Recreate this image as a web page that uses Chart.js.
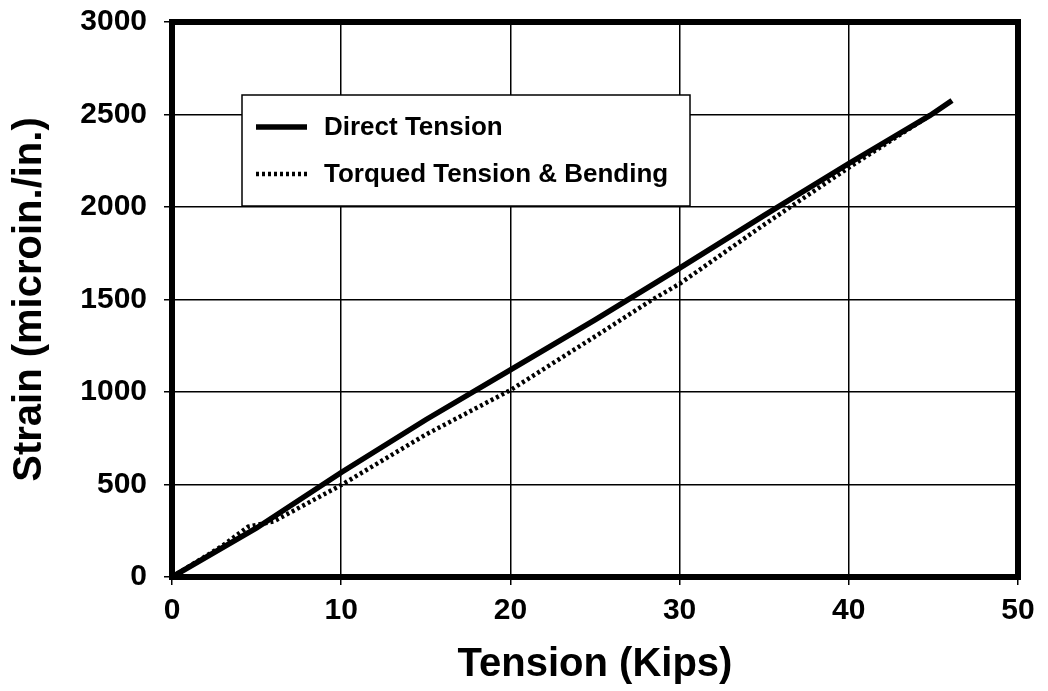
<!DOCTYPE html>
<html>
<head>
<meta charset="utf-8">
<script src="https://cdn.jsdelivr.net/npm/chart.js@4"></script>
<style>
    body { margin: 0; background: #fff; }
    #wrap { width: 1048px; height: 691px; position: relative; }
</style>
</head>
<body>
<div id="wrap"><canvas id="kayra"></canvas></div>
<script>
// values
const directTension = [0, 5, 10, 15, 20, 25, 30, 35, 40, 44.8, 46.1];
const directStrain = [0, 265, 565, 850, 1120, 1390, 1670, 1955, 2235, 2495, 2576];

const torquedTension = [0, 3, 4.5, 6, 10, 15, 20, 25, 28.4, 30, 35, 40, 44.8];
const torquedStrain = [0, 170, 272, 300, 497, 770, 1010, 1300, 1500, 1585, 1905, 2213, 2495];

const seriesLabels = ['Direct Tension', 'Torqued Tension & Bending'];
const xTicks = [0, 10, 20, 30, 40, 50];
const yTicks = [0, 500, 1000, 1500, 2000, 2500, 3000];

const FONT = "'Liberation Sans', Arial, Helvetica, sans-serif";

function toPoints( xs, ys )
{
    let pts = [];
    for ( let i = 0; i < xs.length; i++ )
    {
        pts.push( { x: xs[ i ], y: ys[ i ] } );
    }
    return pts;
}

// thick frame round the plot
const frameBox = {
    id: 'frameBox',
    beforeDatasetsDraw( chart )
    {
        const a = chart.chartArea;
        const ctx = chart.ctx;
        ctx.save();
        ctx.strokeStyle = '#000';
        ctx.lineWidth = 6;
        ctx.strokeRect( a.left, a.top, a.right - a.left, a.bottom - a.top );
        ctx.restore();
    }
};

// boxed legend inside the plot, like the original
const boxLegend = {
    id: 'boxLegend',
    afterDatasetsDraw( chart )
    {
        const a = chart.chartArea;
        const ctx = chart.ctx;
        const x0 = a.left + 70, y0 = a.top + 73, w = 448, h = 111;
        ctx.save();
        ctx.fillStyle = '#fff';
        ctx.fillRect( x0, y0, w, h );
        ctx.strokeStyle = '#000';
        ctx.lineWidth = 1.5;
        ctx.strokeRect( x0, y0, w, h );

        chart.data.datasets.forEach( function ( ds, i )
        {
            const cy = y0 + 32 + i * 47;
            ctx.beginPath();
            ctx.lineWidth = ds.borderWidth;
            ctx.setLineDash( ds.borderDash || [] );
            ctx.moveTo( x0 + 14, cy );
            ctx.lineTo( x0 + 65, cy );
            ctx.stroke();
            ctx.setLineDash( [] );
            ctx.fillStyle = '#000';
            ctx.font = 'bold 26px ' + FONT;
            ctx.textBaseline = 'middle';
            ctx.fillText( ds.label, x0 + 82, cy + 1 );
        } );
        ctx.restore();
    }
};

function plainTick( value )
{
    return value.toString();
}

const config = {
    type: 'scatter',
    data: {
        datasets: [
            {
                label: seriesLabels[ 0 ],
                data: toPoints( directTension, directStrain ),
                showLine: true,
                borderColor: '#000',
                backgroundColor: '#000',
                borderWidth: 5.5,
                pointRadius: 0,
                tension: 0
            },
            {
                label: seriesLabels[ 1 ],
                data: toPoints( torquedTension, torquedStrain ),
                showLine: true,
                borderColor: '#000',
                backgroundColor: '#000',
                borderWidth: 4.5,
                borderDash: [ 3, 3 ],
                pointRadius: 0,
                tension: 0
            }
        ]
    },
    options: {
        responsive: true,
        maintainAspectRatio: false,
        animation: false,
        layout: {
            padding: { left: 0, right: 30, top: 22, bottom: 0 }
        },
        plugins: {
            legend: { display: false },
            tooltip: { enabled: false },
            title: { display: false }
        },
        scales: {
            x: {
                type: 'linear',
                min: 0,
                max: 50,
                afterFit: function ( scale ) { scale.height = 114; },
                afterBuildTicks: function ( scale )
                {
                    scale.ticks = xTicks.map( function ( v ) { return { value: v }; } );
                },
                border: { display: false },
                grid: { color: '#000', lineWidth: 1.5, tickLength: 8, tickColor: '#000' },
                ticks: {
                    color: '#000',
                    padding: 8,
                    callback: plainTick,
                    font: { family: FONT, size: 30, weight: 'bold' }
                },
                title: {
                    display: true,
                    text: 'Tension (Kips)',
                    color: '#000',
                    font: { family: FONT, size: 40, weight: 'bold' },
                    padding: { top: 0, bottom: 2 }
                }
            },
            y: {
                type: 'linear',
                min: 0,
                max: 3000,
                afterFit: function ( scale )
                {
                    scale.width = 172;
                    scale.paddingTop = 0;
                },
                afterBuildTicks: function ( scale )
                {
                    scale.ticks = yTicks.map( function ( v ) { return { value: v }; } );
                },
                border: { display: false },
                grid: { color: '#000', lineWidth: 1.5, tickLength: 8, tickColor: '#000' },
                ticks: {
                    color: '#000',
                    padding: 17,
                    callback: plainTick,
                    font: { family: FONT, size: 30, weight: 'bold' }
                },
                title: {
                    display: true,
                    text: 'Strain (microin./in.)',
                    color: '#000',
                    font: { family: FONT, size: 40, weight: 'bold' },
                    padding: { top: 6, bottom: 0 }
                }
            }
        }
    },
    plugins: [ frameBox, boxLegend ]
};

new Chart( document.getElementById( 'kayra' ).getContext( '2d' ), config );
</script>
</body>
</html>
